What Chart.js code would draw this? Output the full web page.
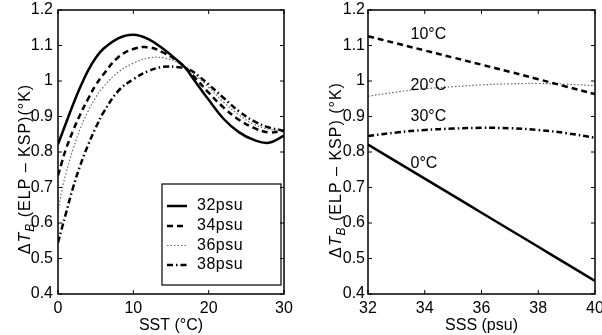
<!DOCTYPE html>
<html>
<head>
<meta charset="utf-8">
<script src="https://cdn.jsdelivr.net/npm/chart.js@4.4.1/dist/chart.umd.min.js"></script>
<style>
body{margin:0;background:#fff;width:602px;height:335px;overflow:hidden;position:relative}
canvas{position:absolute;top:0}
#left{left:0}
#right{left:300px}
</style>
</head>
<body>
<canvas id="left" width="300" height="335"></canvas>
<canvas id="right" width="302" height="335"></canvas>
<script>
// left panel: dTB vs SST, one curve per salinity
const sst=[0,0.5,1,2,3,4,5,6,8,10,12,14,16,17,18,20,22,24,26,28,30];
const psu32=[0.822,0.85,0.878,0.934,0.985,1.03,1.065,1.09,1.12,1.13,1.118,1.09,1.055,1.035,1.005,0.947,0.893,0.856,0.834,0.826,0.846];
const psu34=[0.734,0.77,0.805,0.86,0.908,0.95,0.988,1.018,1.067,1.09,1.095,1.08,1.054,1.036,1.014,0.967,0.925,0.891,0.868,0.855,0.86];
const psu36=[0.63,0.69,0.735,0.808,0.868,0.915,0.953,0.983,1.025,1.05,1.065,1.065,1.051,1.037,1.022,0.982,0.94,0.905,0.878,0.864,0.862];
const psu38=[0.545,0.584,0.623,0.70,0.765,0.82,0.868,0.91,0.972,1.005,1.028,1.04,1.039,1.035,1.025,0.99,0.952,0.915,0.887,0.869,0.86];
const psuNames=["32psu","34psu","36psu","38psu"];

// right panel: dTB vs SSS, one curve per temperature
const sss=[32,33,34,35,36,37,38,39,40];
const t0=[0.821,0.773,0.725,0.677,0.629,0.581,0.533,0.485,0.437];
const t10=[1.126,1.106,1.086,1.066,1.046,1.026,1.005,0.984,0.963];
const t20=[0.957,0.969,0.978,0.984,0.989,0.992,0.993,0.991,0.987];
const t30=[0.845,0.855,0.862,0.866,0.868,0.867,0.862,0.853,0.84];
const tempNames=["0°C","10°C","20°C","30°C"];

const yTicks=[0.4,0.5,0.6,0.7,0.8,0.9,1,1.1,1.2];
const yTickLabels=["0.4","0.5","0.6","0.7","0.8","0.9","1","1.1","1.2"];
const sstTicks=[0,10,20,30];
const sssTicks=[32,34,36,38,40];

const FONT="Liberation Sans, Arial, Helvetica, sans-serif";
const f16={family:FONT,size:16};

// line looks: solid, dashed, dotted, dash-dot
const looks=[
    {borderColor:"#000",borderWidth:2.5,borderDash:[]},
    {borderColor:"#000",borderWidth:2.5,borderDash:[6,4]},
    {borderColor:"#666",borderWidth:1.2,borderDash:[1.5,2]},
    {borderColor:"#000",borderWidth:2.5,borderDash:[6,3,1.5,3]}
];

function series(xs,ys,name,look){
    return Object.assign({
        label:name,
        data:xs.map((x,i)=>({x:x,y:ys[i]})),
        pointRadius:0,
        fill:false,
        tension:0.4,
        borderCapStyle:"butt"
    },look);
}

const framePlugin={
    id:"frame",
    afterDraw(chart){
        const {ctx,chartArea:a,scales:{x,y}}=chart;
        ctx.save();
        ctx.strokeStyle="#000";
        ctx.lineWidth=1.5;
        ctx.strokeRect(a.left,a.top,a.right-a.left,a.bottom-a.top);
        ctx.lineWidth=1;
        ctx.beginPath();
        x.ticks.forEach(t=>{
            const p=x.getPixelForValue(t.value);
            ctx.moveTo(p,a.bottom);ctx.lineTo(p,a.bottom-4);
            ctx.moveTo(p,a.top);ctx.lineTo(p,a.top+4);
        });
        y.ticks.forEach(t=>{
            const p=y.getPixelForValue(t.value);
            ctx.moveTo(a.left,p);ctx.lineTo(a.left+4,p);
            ctx.moveTo(a.right,p);ctx.lineTo(a.right-4,p);
        });
        ctx.stroke();
        ctx.restore();
    }
};

// rotated y title with subscript B
function yTitlePlugin(tail,baseX,centerY){
    return {
        id:"ytitle",
        afterDraw(chart){
            const ctx=chart.ctx;
            ctx.save();
            ctx.letterSpacing="1px";
            const parts=[
                {t:"\u0394",f:"16px "+FONT,dy:0},
                {t:"T",f:"italic 16px "+FONT,dy:0},
                {t:"B",f:"italic 12px "+FONT,dy:4},
                {t:tail,f:"16px "+FONT,dy:0}
            ];
            let total=0;
            parts.forEach(p=>{ctx.font=p.f;p.w=ctx.measureText(p.t).width;total+=p.w;});
            ctx.translate(baseX,centerY+total/2);
            ctx.rotate(-Math.PI/2);
            ctx.fillStyle="#000";
            ctx.textBaseline="alphabetic";
            let cx=0;
            parts.forEach(p=>{ctx.font=p.f;ctx.fillText(p.t,cx,p.dy);cx+=p.w;});
            ctx.restore();
        }
    };
}

const legendPlugin={
    id:"boxLegend",
    afterDatasetsDraw(chart){
        const {ctx,chartArea:a}=chart;
        const x0=a.right-122,y0=a.bottom-110,w=119,h=101;
        const rows=[22,42,61.5,81];
        ctx.save();
        ctx.fillStyle="#fff";
        ctx.fillRect(x0,y0,w,h);
        ctx.strokeStyle="#000";ctx.lineWidth=1.2;ctx.setLineDash([]);
        ctx.strokeRect(x0,y0,w,h);
        chart.data.datasets.forEach((d,i)=>{
            const yy=y0+rows[i];
            ctx.strokeStyle=d.borderColor;ctx.lineWidth=d.borderWidth;ctx.setLineDash(d.borderDash);
            ctx.beginPath();ctx.moveTo(x0+5,yy);ctx.lineTo(x0+25,yy);ctx.stroke();
            ctx.setLineDash([]);
            ctx.fillStyle="#000";ctx.font="16px "+FONT;ctx.textBaseline="middle";ctx.textAlign="left";
            ctx.letterSpacing="0.5px";
            ctx.fillText(d.label,x0+35,yy);
        });
        ctx.restore();
    }
};

// where the temperature names sit in the right panel (data coords)
const tempLabelX=33.5;
const tempLabelY=[0.768,1.131,0.987,0.9];
const tempLabelPlugin={
    id:"tempLabels",
    afterDatasetsDraw(chart){
        const {ctx,scales:{x,y}}=chart;
        ctx.save();
        ctx.fillStyle="#000";ctx.font="16px "+FONT;ctx.textBaseline="middle";ctx.textAlign="left";
        tempNames.forEach((n,i)=>ctx.fillText(n,x.getPixelForValue(tempLabelX),y.getPixelForValue(tempLabelY[i])));
        ctx.restore();
    }
};

function makeChart(canvas,xs,ticksX,xmin,xmax,title,datasets,yWidth,yPad,padRight,plugins){
    return new Chart(canvas,{
        type:"line",
        data:{datasets:datasets},
        options:{
            responsive:false,
            animation:false,
            events:[],
            layout:{padding:{top:10,right:padRight,left:0,bottom:0}},
            plugins:{legend:{display:false},tooltip:{enabled:false}},
            scales:{
                x:{
                    type:"linear",min:xmin,max:xmax,
                    afterBuildTicks:s=>{s.ticks=ticksX.map(v=>({value:v}));},
                    afterFit:s=>{s.height=41;s.paddingLeft=0;s.paddingRight=0;},
                    ticks:{font:f16,color:"#000",padding:5,autoSkip:false,maxRotation:0},
                    grid:{display:false,drawTicks:false},
                    border:{display:false},
                    title:{display:true,text:title,font:f16,color:"#000",padding:0}
                },
                y:{
                    type:"linear",min:0.4,max:1.2,
                    afterBuildTicks:s=>{s.ticks=yTicks.map(v=>({value:v}));},
                    afterFit:s=>{s.width=yWidth;s.paddingTop=0;s.paddingBottom=0;},
                    ticks:{font:f16,color:"#000",padding:yPad,callback:(v,i)=>yTickLabels[i]},
                    grid:{display:false,drawTicks:false},
                    border:{display:false}
                }
            }
        },
        plugins:[framePlugin].concat(plugins)
    });
}

const leftSets=[psu32,psu34,psu36,psu38].map((ys,i)=>series(sst,ys,psuNames[i],looks[i]));
const rightSets=[t0,t10,t20,t30].map((ys,i)=>series(sss,ys,tempNames[i],looks[i]));

makeChart(document.getElementById("left"),sst,sstTicks,0,30,"SST (°C)",leftSets,58,5,16,
    [legendPlugin,yTitlePlugin(" (ELP \u2013 KSP)(°K)",30,169)]);
makeChart(document.getElementById("right"),sss,sssTicks,32,40,"SSS (psu)",rightSets,68,3,7,
    [tempLabelPlugin,yTitlePlugin(" (ELP \u2013 KSP) (°K)",41,170)]);
</script>
</body>
</html>
